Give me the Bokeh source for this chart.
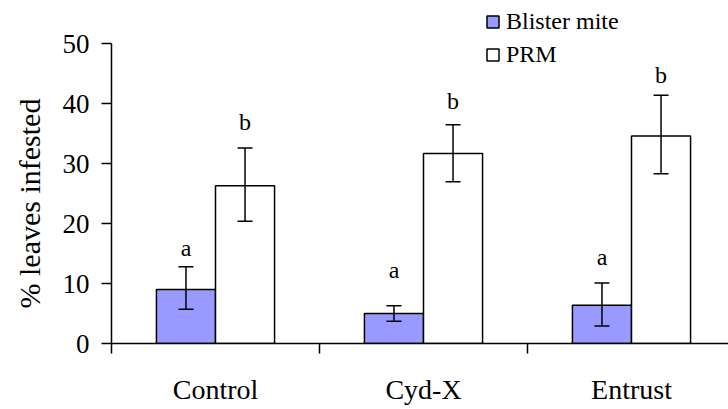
import math
from bokeh.plotting import figure
from bokeh.models import (ColumnDataSource, FixedTicker, Whisker, TeeHead, Legend,
                          LegendItem, Range1d, Title)
from bokeh.core.properties import value
from bokeh.embed import file_html
from bokeh.resources import INLINE

# ---- data ----
treatments = ["Control", "Cyd-X", "Entrust"]
blister_mean = [9.0, 5.0, 6.4]
blister_lower = [5.7, 3.7, 2.9]
blister_upper = [12.8, 6.3, 10.1]
prm_mean = [26.3, 31.7, 34.6]
prm_lower = [20.4, 27.0, 28.3]
prm_upper = [32.6, 36.5, 41.4]
blister_letters = ["a", "a", "a"]
prm_letters = ["b", "b", "b"]
blister_letter_y = [16.0, 12.3, 14.4]
prm_letter_y = [37.0, 40.4, 44.8]
y_ticks = [0, 10, 20, 30, 40, 50]

FONT = "Liberation Serif"
BAR_W = 0.284
centers = [i + 0.5 for i in range(len(treatments))]
bx = [c - BAR_W / 2 for c in centers]
px = [c + BAR_W / 2 for c in centers]

src_b = ColumnDataSource(dict(x=bx, top=blister_mean, lo=blister_lower, hi=blister_upper,
                              lab=blister_letters, ly=blister_letter_y))
src_p = ColumnDataSource(dict(x=px, top=prm_mean, lo=prm_lower, hi=prm_upper,
                              lab=prm_letters, ly=prm_letter_y))

p = figure(width=728, height=409, output_backend="svg", toolbar_location=None,
           x_range=Range1d(0, 617 / 208), y_range=Range1d(0, 343.3 / 6),
           min_border_left=111, min_border_right=0, min_border_top=0, min_border_bottom=66)
p.outline_line_color = None
p.grid.visible = False
p.background_fill_color = "white"
p.border_fill_color = "white"

rb = p.vbar(x="x", top="top", width=BAR_W, bottom=0, source=src_b,
            fill_color="#9999FF", line_color="black", line_width=1.5)
rp = p.vbar(x="x", top="top", width=BAR_W, bottom=0, source=src_p,
            fill_color="white", line_color="black", line_width=1.5)

for src in (src_b, src_p):
    w = Whisker(base="x", lower="lo", upper="hi", source=src, line_color="black", line_width=1.5,
                upper_head=TeeHead(size=15, line_color="black", line_width=1.5),
                lower_head=TeeHead(size=15, line_color="black", line_width=1.5),
                level="overlay")
    p.add_layout(w)
    p.text(x="x", y="ly", text="lab", source=src, text_align="center",
           text_baseline="middle", text_font=value(FONT), text_font_size="24px",
           text_color="black")

# x axis
xa = p.xaxis[0]
xa.ticker = FixedTicker(ticks=centers, minor_ticks=[0, 1, 2, 3])
xa.major_label_overrides = {c: t for c, t in zip(centers, treatments)}
xa.major_tick_out = 0
xa.major_tick_in = 0
xa.minor_tick_out = 10
xa.minor_tick_in = 0
xa.minor_tick_line_color = "black"
xa.minor_tick_line_width = 1.5
xa.axis_line_width = 1.5
xa.axis_line_color = "black"
xa.major_label_standoff = 20
xa.major_label_text_font = FONT
xa.major_label_text_font_size = "28px"
xa.major_label_text_color = "black"

# y axis
ya = p.yaxis[0]
ya.ticker = FixedTicker(ticks=y_ticks, minor_ticks=[])
ya.bounds = (0, 50)
ya.major_tick_out = 10
ya.major_tick_in = 0
ya.major_tick_line_width = 1.5
ya.major_tick_line_color = "black"
ya.minor_tick_out = 0
ya.minor_tick_in = 0
ya.axis_line_width = 1.5
ya.axis_line_color = "black"
ya.major_label_standoff = 12
ya.major_label_text_font = FONT
ya.major_label_text_font_size = "27px"
ya.major_label_text_color = "black"

ylab = Title(text="% leaves infested", align="left", offset=35, vertical_align="top",
             standoff=24, text_font=FONT, text_font_size="30px", text_font_style="normal",
             text_color="black")
p.add_layout(ylab, "left")

legend = Legend(items=[LegendItem(label="Blister mite", renderers=[rb]),
                       LegendItem(label="PRM", renderers=[rp])],
                location=(374, 275), orientation="vertical",
                glyph_width=15, glyph_height=15, label_standoff=6, spacing=6,
                padding=0, margin=0, border_line_color=None, background_fill_alpha=0,
                label_text_font=FONT, label_text_font_size="24px", label_text_color="black")
p.add_layout(legend, "center")

open("out.html", "w").write(file_html(p, INLINE))
